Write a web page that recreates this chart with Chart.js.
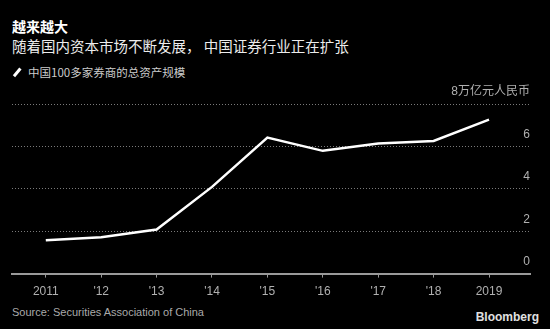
<!DOCTYPE html>
<html>
<head>
<meta charset="utf-8">
<script src="https://cdn.jsdelivr.net/npm/chart.js@4/dist/chart.umd.min.js"></script>
<style>
  html, body { margin: 0; padding: 0; background: #000; }
  body { width: 550px; height: 329px; position: relative; overflow: hidden;
         font-family: "Noto Sans CJK SC", "Liberation Sans", sans-serif; color: #fff; }
  .title { position: absolute; left: 12px; top: 16px; font-size: 14px; font-weight: bold; }
  .subtitle { position: absolute; left: 12px; top: 35px; font-size: 14.5px; color: #ececec; }
  .legend { position: absolute; left: 12px; top: 64px; font-size: 11.5px; color: #cccccc; }
  .legend .swatch { display: inline-block; width: 10px; height: 2.5px; background: #fff;
                    transform: rotate(-50deg); vertical-align: middle; margin: 0 6px 3px 0; }
  .source { position: absolute; left: 12px; top: 306px; font-size: 11px; color: #aaaaaa;
            font-family: "Liberation Sans", sans-serif; }
  .brand { position: absolute; right: 11px; top: 310px; font-size: 12px; font-weight: bold;
           color: #e0e0e0; font-family: "Liberation Sans", sans-serif; }
  #wrap { position: absolute; left: 0; top: 80px; width: 550px; height: 226px; }
</style>
</head>
<body>
<div class="title">越来越大</div>
<div class="subtitle">随着国内资本市场不断发展，&nbsp;中国证券行业正在扩张</div>
<div class="legend"><span class="swatch"></span>中国100多家券商的总资产规模</div>
<div id="wrap"><canvas id="chart"></canvas></div>
<div class="source">Source: Securities Association of China</div>
<div class="brand">Bloomberg</div>
<script>
// Total assets of China's 100+ brokerages, trillion yuan
const years = [2011, 2012, 2013, 2014, 2015, 2016, 2017, 2018, 2019];
const yearLabels = ["2011", "'12", "'13", "'14", "'15", "'16", "'17", "'18", "2019"];
const totalAssets = [1.57, 1.72, 2.08, 4.09, 6.42, 5.79, 6.14, 6.26, 7.26];
const yTicks = [0, 2, 4, 6, 8];
const yUnit = "万亿元人民币";

const ctx = document.getElementById("chart").getContext("2d");

new Chart(ctx, {
  type: "line",
  data: {
    datasets: [
      {
        label: "中国100多家券商的总资产规模",
        data: years.map((y, i) => ({ x: y, y: totalAssets[i] })),
        borderColor: "#ffffff",
        borderWidth: 2.5,
        pointRadius: 0,
        tension: 0,
      },
    ],
  },
  options: {
    responsive: true,
    maintainAspectRatio: false,
    animation: false,
    layout: {
      padding: { left: 12, right: 20, top: 24, bottom: 0 },
    },
    plugins: {
      legend: { display: false },
      tooltip: { enabled: false },
    },
    scales: {
      x: {
        type: "linear",
        min: 2010.39,
        max: 2019.74,
        afterBuildTicks: (axis) => {
          axis.ticks = years.map((y) => ({ value: y }));
        },
        grid: {
          display: true,
          drawOnChartArea: false,
          drawTicks: true,
          tickLength: 4,
          color: "#999999",
          lineWidth: 1,
        },
        border: { display: true, color: "#999999", width: 2 },
        ticks: {
          color: "#b0b0b0",
          font: { family: "Liberation Sans", size: 12 },
          padding: 7,
          maxRotation: 0,
          autoSkip: false,
          callback: (value) => yearLabels[years.indexOf(value)],
        },
      },
      y: {
        position: "right",
        min: 0,
        max: 8,
        afterBuildTicks: (axis) => {
          axis.ticks = yTicks.map((v) => ({ value: v }));
        },
        grid: {
          color: "#7a7a7a",
          lineWidth: 1,
          drawTicks: false,
        },
        // dotted horizontal gridlines
        border: { display: false, dash: [1, 2] },
        ticks: {
          mirror: true,
          padding: 0,
          labelOffset: -12,
          color: "#b0b0b0",
          font: { family: "Liberation Sans, Noto Sans CJK SC", size: 12 },
          callback: (value) => (value === 8 ? value + yUnit : String(value)),
        },
      },
    },
  },
});
</script>
</body>
</html>
